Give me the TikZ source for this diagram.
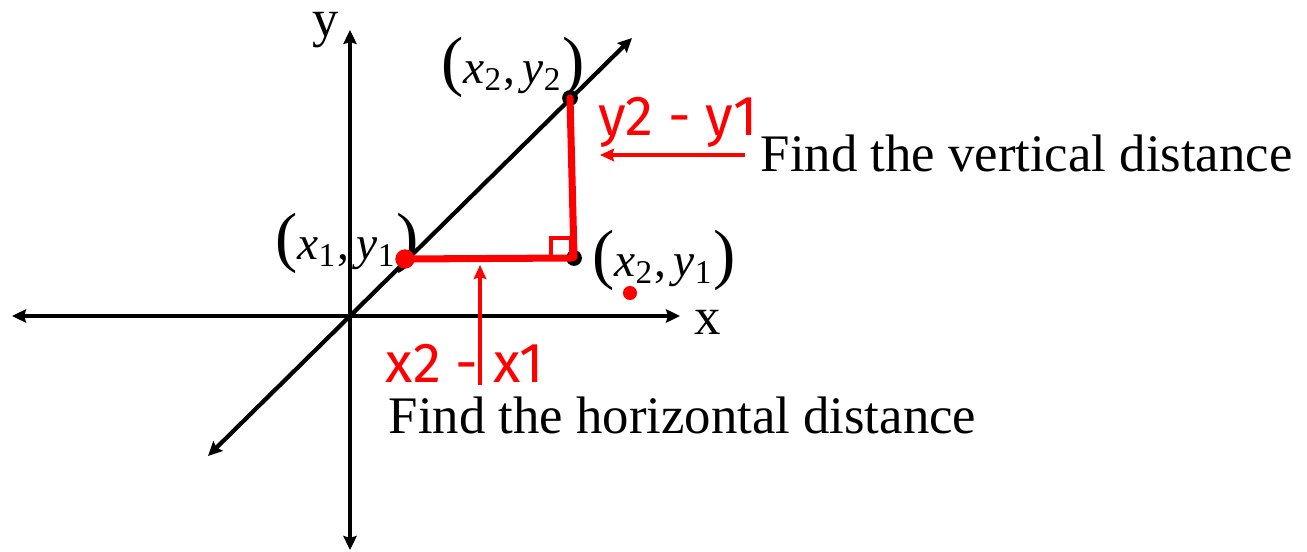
\documentclass[tikz,border=0pt]{standalone}
\usepackage{fontspec}
\setmainfont{Liberation Serif}
\newfontfamily\handfont{Fira Sans}
\usetikzlibrary{positioning,arrows.meta}
\newcommand{\ptlbl}[2]{{\fontsize{19}{20}\selectfont(}\textit{x}\textsubscript{#1},\,\textit{y}\textsubscript{#2}{\fontsize{19}{20}\selectfont)}}
\tikzset{
  axis/.style    = {line width=1.2pt, {Stealth[length=4pt,width=3.8pt,inset=0.6pt]}-{Stealth[length=4pt,width=3.8pt,inset=0.6pt]}},
  rline/.style   = {line width=2pt, red, line cap=round, line join=round},
  rsq/.style     = {line width=1pt, red},
  rarr/.style    = {line width=1.1pt, red, -{Stealth[length=4pt,width=3.6pt,inset=0.6pt]}},
  bdot/.style    = {circle, fill=black, inner sep=0pt, minimum size=4.5pt},
  rdot/.style    = {circle, fill=red, inner sep=0pt, minimum size=5.5pt},
  lbl/.style     = {font=\fontsize{15}{18}\selectfont, inner sep=0pt},
  plbl/.style    = {font=\fontsize{13.5}{18}\selectfont, inner sep=0pt},
  hand/.style    = {font=\handfont\fontsize{16}{18}\selectfont, text=red, inner sep=0pt},
}

\begin{document}
\begin{tikzpicture}[x=0.01cm,y=-0.01cm]
  \useasboundingbox (0,0) rectangle (1307,552);
  % axes
  \coordinate (O) at (350,316);
  \coordinate (xl) at (12,316);
  \coordinate (xr) at (680,316);
  \coordinate (yt) at (350,30);
  \coordinate (yb) at (350,550);
  \coordinate (dl) at (208,456);
  \coordinate (dr) at (632,38);
  \draw[axis] (xl)--(xr);
  \draw[axis] (yb)--(yt);
  \draw[axis] (dl)--(dr);
  \node[lbl] (xlab) at (708,322) {x};
  \node[lbl, anchor=base] (ylab) at (326,37) {y};
  % points
  \node[bdot] (p2) at (570,98) {};
  \node[bdot] (p3) at (574,258) {};
  \node[plbl] (l2) at (513,67) {\ptlbl{2}{2}};
  \node[plbl] (l1) at (347,243) {\ptlbl{1}{1}};
  \node[plbl] (l3) at (664,260) {\ptlbl{2}{1}};
  % red legs
  \draw[rline] (405,259)--(572,258);
  \draw[rline] (p2.center)--(574,257);
  \draw[rsq] (551,257) rectangle (571,238);
  \node[rdot] (p1) at (405,259) {};
  \node[rdot, minimum size=4pt] (spot) at (630,293) {};
  % notes
  \node[hand] (dy) at (678,122) {y2 - y1};
  \node[hand] (dx) at (465,363) {x2 - x1};
  \node[lbl, anchor=base west] (vtxt) at (760,172) {Find the vertical distance};
  \node[lbl, anchor=base west] (htxt) at (388,433) {Find the horizontal distance};
  \coordinate (va) at (745,155);
  \coordinate (vb) at (600,155);
  \coordinate (ha) at (480,385);
  \coordinate (hb) at (480,265);
  \draw[rarr] (va)--(vb);
  \draw[rarr] (ha)--(hb);
\end{tikzpicture}
\end{document}
